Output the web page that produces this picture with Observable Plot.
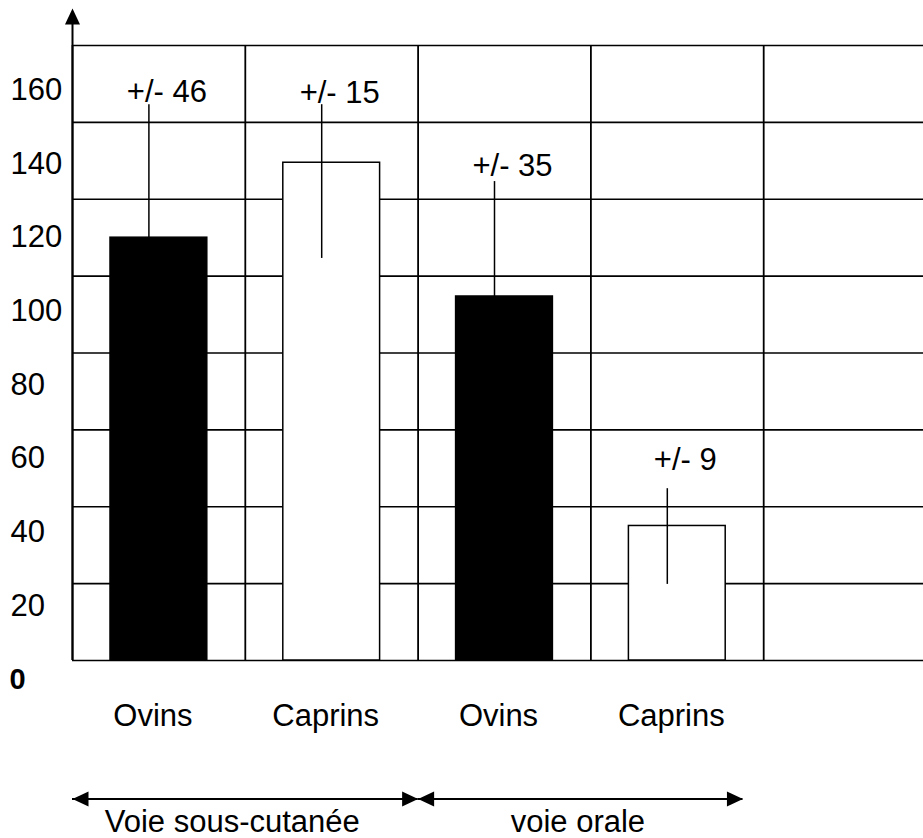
<!DOCTYPE html>
<html>
<head>
<meta charset="utf-8">
<script src="https://cdn.jsdelivr.net/npm/d3@7"></script>
<script src="https://cdn.jsdelivr.net/npm/@observablehq/plot@0.6"></script>
<style>
  html, body { margin: 0; padding: 0; background: white; }
  #chart { position: relative; width: 923px; height: 838px; overflow: hidden; }
</style>
</head>
<body>
<div id="chart"></div>
<script>
// ---- data ----
const categories = ["Ovins", "Caprins", "Ovins", "Caprins"];
const values     = [110, 129.5, 94.7, 35];
const errLow     = [110, 104.6, 94.7, 19.8];
const errHigh    = [144.6, 144.6, 124.6, 44.7];
const errText    = ["+/- 46", "+/- 15", "+/- 35", "+/- 9"];
const errTextAt  = [148, 147.7, 128.7, 52.2];
const gridValues = [0, 20, 40, 60, 80, 100, 120, 140, 160];
const tickValues = [20, 40, 60, 80, 100, 120, 140, 160];
const tickLabels = ["20", "40", "60", "80", "100", "120", "140", "160"];
const zeroLabel  = ["0"];
const routeNames = ["Voie sous-cutanée", "voie orale"];
const routeFrom  = [0, 2];
const routeTo    = [2, 3.88];
const nSlots = 5;

const bars = categories.map((c, i) => ({
  i, c, v: values[i], lo: errLow[i], hi: errHigh[i], t: errText[i], ty: errTextAt[i],
  fill: c === "Ovins" ? "black" : "white"
}));
const routes = routeNames.map((name, k) => ({name, from: routeFrom[k], to: routeTo[k]}));
const center = d => d.i + 0.5;
const font = "'Liberation Sans', Arial, Helvetica, sans-serif";

// filled arrowhead symbol: apex at the origin, pointing up
const arrowHead = {
  draw(context, size) {
    const r = Math.sqrt(size / Math.PI);
    context.moveTo(0, 0);
    context.lineTo(-0.47 * r, r);
    context.lineTo(0.47 * r, r);
    context.closePath();
  }
};

const main = Plot.plot({
  width: 923,
  height: 838,
  marginLeft: 72, marginRight: 0, marginTop: 0, marginBottom: 0,
  x: {type: "linear", domain: [0, nSlots], range: [72, 936], axis: null},
  y: {domain: [0, 160], range: [660, 45], axis: null},
  style: {fontFamily: font, fontSize: "31px", background: "white", color: "black"},
  marks: [
    // horizontal grid
    Plot.ruleY(gridValues, {y: d => d, stroke: "black", strokeWidth: 1.7}),
    // vertical grid (slot boundaries)
    Plot.ruleX(d3.range(nSlots), {x: d => d, y1: 0, y2: 160, stroke: "black", strokeWidth: 1.8}),
    // y axis line extended above the grid, with arrowhead
    Plot.ruleX([0], {x: d => d, y1: 160, y2: 0, insetTop: -22, stroke: "black", strokeWidth: 2}),
    Plot.dot([0], {x: d => d, y: 160, dy: -37, symbol: arrowHead, r: 16, fill: "black", stroke: "none"}),
    // bars
    Plot.rectY(bars, {x: "i", interval: 1, y: "v", insetLeft: 38, insetRight: 38,
      fill: "fill", stroke: "black", strokeWidth: 1.5}),
    // error lines
    Plot.ruleX(bars, {x: center, y1: "lo", y2: "hi", dx: -10, stroke: "black", strokeWidth: 1.5}),
    // error labels
    Plot.text(bars, {x: center, y: "ty", text: "t", dx: 8, fill: "black", fontSize: 31}),
    // category labels
    Plot.text(bars, {x: center, y: 0, text: "c", dx: -6, dy: 56, fill: "black", fontSize: 31}),
    // route arrows (double-headed)
    Plot.ruleY(routes, {x1: "from", x2: "to", y: 0, dy: 138.5, stroke: "black", strokeWidth: 1.8}),
    Plot.dot(routes, {x: "from", y: 0, dy: 138.5, symbol: arrowHead, r: 16, rotate: -90, fill: "black", stroke: "none"}),
    Plot.dot(routes, {x: "to", y: 0, dy: 138.5, symbol: arrowHead, r: 16, rotate: 90, fill: "black", stroke: "none"}),
    // route labels
    Plot.text(routes, {x: d => d.from + 1, y: 0, text: "name", dx: -13, dy: 162, fill: "black", fontSize: 31})
  ]
});

const ticks = Plot.plot({
  width: 72,
  height: 838,
  margin: 0,
  x: {domain: [0, 1], range: [0, 72], axis: null},
  y: {domain: [0, 160], range: [679, 89.5], axis: null},
  style: {fontFamily: font, background: "transparent", position: "absolute", left: "0px", top: "0px", color: "black"},
  marks: [
    Plot.text(tickValues, {x: 0, y: d => d, text: (d, i) => tickLabels[i], textAnchor: "start", dx: 10, fill: "black", fontSize: 31}),
    Plot.text(zeroLabel, {x: 0, y: 0, text: d => d, textAnchor: "start", dx: 9, fontSize: 29, fontWeight: "bold", fill: "black"})
  ]
});

const host = document.getElementById("chart");
host.appendChild(main);
host.appendChild(ticks);
</script>
</body>
</html>
